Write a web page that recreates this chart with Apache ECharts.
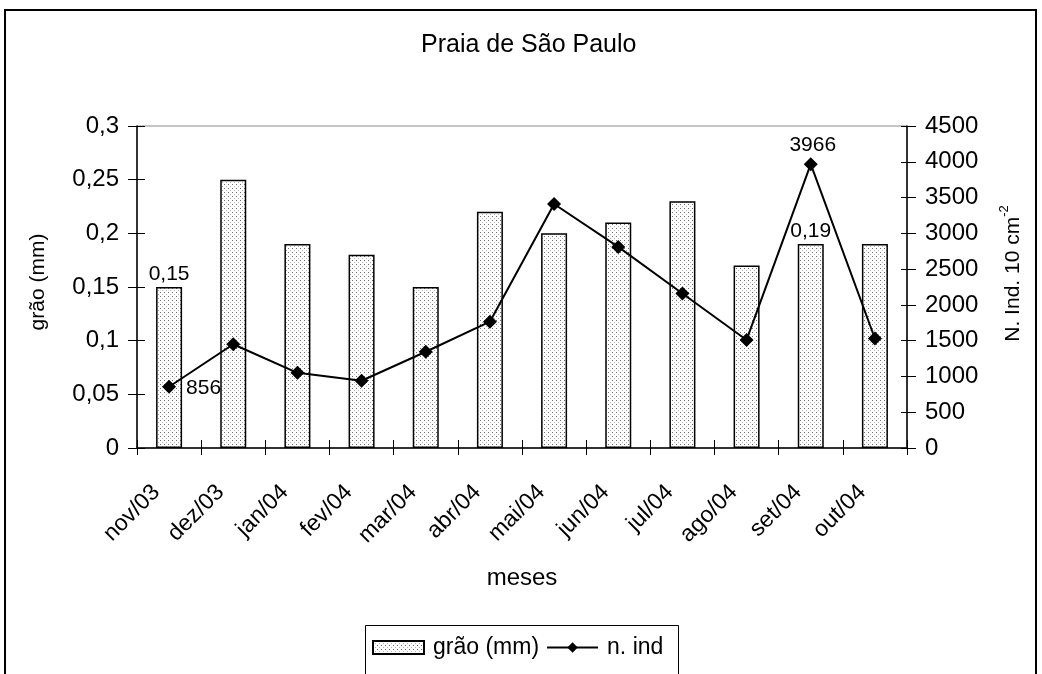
<!DOCTYPE html>
<html>
<head>
<meta charset="utf-8">
<script src="https://cdn.jsdelivr.net/npm/echarts@6/dist/echarts.min.js"></script>
<style>
  html, body { margin: 0; padding: 0; background: #fff; }
  #chart { width: 1042px; height: 674px; }
</style>
</head>
<body>
<div id="chart"></div>
<script>
// Monthly samples, Praia de São Paulo
const months = ['nov/03', 'dez/03', 'jan/04', 'fev/04', 'mar/04', 'abr/04',
                'mai/04', 'jun/04', 'jul/04', 'ago/04', 'set/04', 'out/04'];
// mean grain size (mm)
const grainMm = [0.15, 0.25, 0.19, 0.18, 0.15, 0.22, 0.20, 0.21, 0.23, 0.17, 0.19, 0.19];
// number of individuals per 10 cm^2
const nInd = [856, 1450, 1050, 940, 1345, 1765, 3410, 2810, 2160, 1510, 3966, 1530];
// which points carry a value label
const grainLabelIdx = [0, 10];
const nIndLabelIdx = [0, 10];
// axis ranges
const grainAxis = { min: 0, max: 0.3, step: 0.05 };
const nIndAxis = { min: 0, max: 4500, step: 500 };

const FONT = "'Liberation Sans', Arial, sans-serif";
const FS_TICK = 24;
const FS_CAT = 23;
const FS_VAL = 21;

// comma as decimal separator
const fmtDec = v => String(+v.toFixed(4)).replace('.', ',');

// light stippled fill for the bars
function dotPattern() {
  const c = document.createElement('canvas');
  c.width = 4; c.height = 4;
  const g = c.getContext('2d');
  g.fillStyle = '#ffffff'; g.fillRect(0, 0, 4, 4);
  g.fillStyle = '#6a6a6a'; g.fillRect(0, 0, 1, 1);
  g.fillStyle = '#b4b4b4'; g.fillRect(2, 2, 1, 1);
  return c;
}
const dotFill = { image: dotPattern(), repeat: 'repeat' };

const barData = grainMm.map((v, i) => grainLabelIdx.includes(i)
  ? { value: v, label: { show: true, position: 'top', distance: 2,
      formatter: p => fmtDec(p.value) } }
  : v);

const lineData = nInd.map((v, i) => {
  if (!nIndLabelIdx.includes(i)) return v;
  const first = i === 0;
  return { value: v, label: { show: true, position: first ? 'right' : 'top',
    distance: first ? 10 : 2, offset: first ? [0, 1] : [2, 0] } };
});

// secondary tick-only axes so the ticks cross the axis lines
const tickOnly = len => ({ show: true, inside: true, length: len, lineStyle: { color: '#000' } });

const chart = echarts.init(document.getElementById('chart'), null, { renderer: 'canvas' });

chart.setOption({
  animation: false,
  backgroundColor: '#ffffff',
  textStyle: { fontFamily: FONT, color: '#000' },
  title: {
    text: 'Praia de São Paulo',
    left: 421, top: 33, padding: 0,
    textStyle: { fontFamily: FONT, fontSize: 25, fontWeight: 'normal', color: '#000' }
  },
  legend: {
    left: 372, top: 636, padding: 0,
    itemWidth: 51, itemHeight: 13, itemGap: 7,
    textStyle: { fontFamily: FONT, fontSize: FS_CAT, color: '#000', padding: [0, 0, 0, 4] },
    data: [{ name: 'grão (mm)', icon: 'rect' }, { name: 'n. ind' }]
  },
  graphic: [
    { type: 'rect', silent: true, z: -1,
      shape: { x: 5, y: 10, width: 1031, height: 700 },
      style: { fill: null, stroke: '#000', lineWidth: 2 } },
    { type: 'rect', silent: true,
      shape: { x: 365.5, y: 625.5, width: 313, height: 80 },
      style: { fill: null, stroke: '#000', lineWidth: 1 } }
  ],
  grid: {
    left: 137, right: 135, top: 126, bottom: 226,
    show: true, borderColor: '#8c8c8c', borderWidth: 1, backgroundColor: 'transparent'
  },
  xAxis: [
    {
      type: 'category',
      data: months,
      name: 'meses',
      nameLocation: 'middle',
      nameGap: 118,
      nameTextStyle: { fontFamily: FONT, fontSize: 24, color: '#000' },
      axisLine: { lineStyle: { color: '#000', width: 1.5 } },
      axisTick: { show: true, length: 7, lineStyle: { color: '#000' } },
      axisLabel: {
        rotate: 45, margin: 28, padding: [0, 18, 0, 0],
        fontFamily: FONT, fontSize: FS_CAT, color: '#000'
      },
      splitLine: { show: false }
    },
    {
      type: 'category', data: months, position: 'bottom',
      axisLine: { show: false }, axisLabel: { show: false },
      axisTick: tickOnly(8), splitLine: { show: false }
    }
  ],
  yAxis: [
    {
      type: 'value',
      min: grainAxis.min, max: grainAxis.max, interval: grainAxis.step,
      name: 'grão (mm)',
      nameLocation: 'middle', nameGap: 88, nameRotate: 90,
      nameTextStyle: { fontFamily: FONT, fontSize: 21, color: '#000', padding: [0, 0, 0, 10] },
      axisLine: { show: true, lineStyle: { color: '#000', width: 1.5 } },
      axisTick: { show: true, length: 9, lineStyle: { color: '#000' } },
      axisLabel: { margin: 18, fontFamily: FONT, fontSize: FS_TICK, color: '#000',
        formatter: v => fmtDec(v) },
      splitLine: { show: false }
    },
    {
      type: 'value',
      position: 'right',
      min: nIndAxis.min, max: nIndAxis.max, interval: nIndAxis.step,
      name: '{n|N. Ind. 10 cm}{s|-2}',
      nameLocation: 'middle', nameGap: 91, nameRotate: 90,
      nameTextStyle: {
        fontFamily: FONT, fontSize: 21, color: '#000', padding: [0, 0, 0, 27],
        rich: {
          n: { fontFamily: FONT, fontSize: 21, color: '#000', verticalAlign: 'bottom', lineHeight: 26 },
          s: { fontFamily: FONT, fontSize: 13, color: '#000', verticalAlign: 'top', lineHeight: 26 }
        }
      },
      axisLine: { show: true, lineStyle: { color: '#000', width: 1.5 } },
      axisTick: { show: true, length: 9, lineStyle: { color: '#000' } },
      axisLabel: { margin: 18, fontFamily: FONT, fontSize: FS_TICK, color: '#000',
        formatter: v => String(v) },
      splitLine: { show: false }
    },
    {
      type: 'value', position: 'left',
      min: grainAxis.min, max: grainAxis.max, interval: grainAxis.step,
      axisLine: { show: false }, axisLabel: { show: false },
      axisTick: tickOnly(8), splitLine: { show: false }
    },
    {
      type: 'value', position: 'right',
      min: nIndAxis.min, max: nIndAxis.max, interval: nIndAxis.step,
      axisLine: { show: false }, axisLabel: { show: false },
      axisTick: tickOnly(6), splitLine: { show: false }
    }
  ],
  series: [
    {
      name: 'grão (mm)',
      type: 'bar',
      yAxisIndex: 0,
      barWidth: 26,
      data: barData,
      itemStyle: { color: dotFill, borderColor: '#000', borderWidth: 1.5 },
      label: { fontFamily: FONT, fontSize: FS_VAL, color: '#000' },
      z: 2
    },
    {
      name: 'n. ind',
      type: 'line',
      yAxisIndex: 1,
      data: lineData,
      symbol: 'diamond',
      symbolSize: 14,
      lineStyle: { color: '#000', width: 2 },
      itemStyle: { color: '#000' },
      label: { fontFamily: FONT, fontSize: FS_VAL, color: '#000' },
      z: 3
    }
  ]
});
</script>
</body>
</html>
